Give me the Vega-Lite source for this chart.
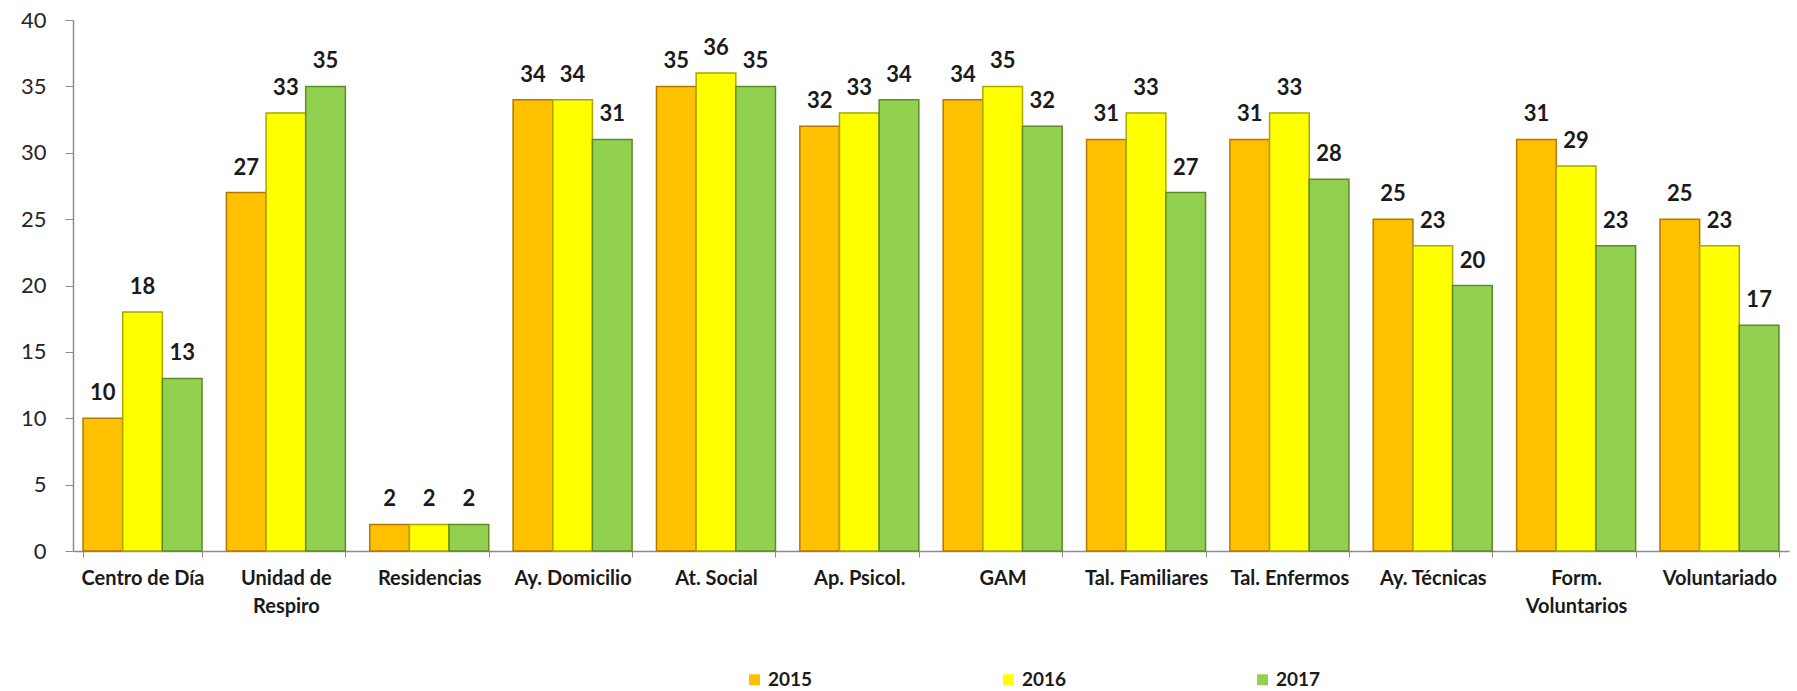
{
  "$schema": "https://vega.github.io/schema/vega-lite/v6.json",
  "width": 1716,
  "height": 531,
  "autosize": {"type": "none"},
  "padding": {"left": 73, "top": 20, "right": 8, "bottom": 140},
  "background": "white",
  "config": {"view": {"stroke": null}, "font": "Lato"},
  "data": {
    "values": [
      {"servicio": "Centro de Día", "anio": "2015", "valor": 10},
      {"servicio": "Centro de Día", "anio": "2016", "valor": 18},
      {"servicio": "Centro de Día", "anio": "2017", "valor": 13},
      {"servicio": "Unidad de Respiro", "anio": "2015", "valor": 27},
      {"servicio": "Unidad de Respiro", "anio": "2016", "valor": 33},
      {"servicio": "Unidad de Respiro", "anio": "2017", "valor": 35},
      {"servicio": "Residencias", "anio": "2015", "valor": 2},
      {"servicio": "Residencias", "anio": "2016", "valor": 2},
      {"servicio": "Residencias", "anio": "2017", "valor": 2},
      {"servicio": "Ay. Domicilio", "anio": "2015", "valor": 34},
      {"servicio": "Ay. Domicilio", "anio": "2016", "valor": 34},
      {"servicio": "Ay. Domicilio", "anio": "2017", "valor": 31},
      {"servicio": "At. Social", "anio": "2015", "valor": 35},
      {"servicio": "At. Social", "anio": "2016", "valor": 36},
      {"servicio": "At. Social", "anio": "2017", "valor": 35},
      {"servicio": "Ap. Psicol.", "anio": "2015", "valor": 32},
      {"servicio": "Ap. Psicol.", "anio": "2016", "valor": 33},
      {"servicio": "Ap. Psicol.", "anio": "2017", "valor": 34},
      {"servicio": "GAM", "anio": "2015", "valor": 34},
      {"servicio": "GAM", "anio": "2016", "valor": 35},
      {"servicio": "GAM", "anio": "2017", "valor": 32},
      {"servicio": "Tal. Familiares", "anio": "2015", "valor": 31},
      {"servicio": "Tal. Familiares", "anio": "2016", "valor": 33},
      {"servicio": "Tal. Familiares", "anio": "2017", "valor": 27},
      {"servicio": "Tal. Enfermos", "anio": "2015", "valor": 31},
      {"servicio": "Tal. Enfermos", "anio": "2016", "valor": 33},
      {"servicio": "Tal. Enfermos", "anio": "2017", "valor": 28},
      {"servicio": "Ay. Técnicas", "anio": "2015", "valor": 25},
      {"servicio": "Ay. Técnicas", "anio": "2016", "valor": 23},
      {"servicio": "Ay. Técnicas", "anio": "2017", "valor": 20},
      {"servicio": "Form. Voluntarios", "anio": "2015", "valor": 31},
      {"servicio": "Form. Voluntarios", "anio": "2016", "valor": 29},
      {"servicio": "Form. Voluntarios", "anio": "2017", "valor": 23},
      {"servicio": "Voluntariado", "anio": "2015", "valor": 25},
      {"servicio": "Voluntariado", "anio": "2016", "valor": 23},
      {"servicio": "Voluntariado", "anio": "2017", "valor": 17}
    ]
  },
  "encoding": {
    "x": {
      "field": "servicio",
      "type": "nominal",
      "sort": null,
      "scale": {"paddingInner": 0.17, "paddingOuter": 0.07},
      "axis": {
        "title": null,
        "labelAngle": 0,
        "labelFont": "Lato",
        "labelFontWeight": "bold",
        "labelFontSize": 20,
        "labelColor": "#1a1a1a",
        "labelPadding": 11,
        "labelLineHeight": 28,
        "labelLimit": 200,
        "labelExpr": "datum.value == 'Unidad de Respiro' ? ['Unidad de', 'Respiro'] : datum.value == 'Form. Voluntarios' ? ['Form.', 'Voluntarios'] : datum.value",
        "tickBand": "extent",
        "tickSize": 6,
        "tickColor": "#8c8c8c",
        "domainColor": "#8c8c8c",
        "domainWidth": 1.5
      }
    },
    "xOffset": {"field": "anio", "type": "nominal", "scale": {"paddingInner": 0, "paddingOuter": 0}},
    "y": {
      "field": "valor",
      "type": "quantitative",
      "scale": {"domain": [0, 40]},
      "axis": {
        "title": null,
        "values": [0, 5, 10, 15, 20, 25, 30, 35, 40],
        "grid": false,
        "labelFont": "Lato",
        "labelFontSize": 22,
        "labelColor": "#262626",
        "labelPadding": 19,
        "tickSize": 8,
        "tickColor": "#8c8c8c",
        "domainColor": "#8c8c8c",
        "domainWidth": 1.5
      }
    }
  },
  "layer": [
    {
      "mark": {"type": "bar", "strokeWidth": 1.5},
      "encoding": {
        "color": {
          "field": "anio",
          "type": "nominal",
          "scale": {"domain": ["2015", "2016", "2017"], "range": ["#FFC000", "#FFFF00", "#92D050"]},
          "legend": {
            "title": null,
            "orient": "none",
            "direction": "horizontal",
            "legendX": 672,
            "legendY": 650,
            "symbolType": "square",
            "symbolSize": 120,
            "symbolStrokeWidth": 0,
            "labelFont": "Lato",
            "labelFontWeight": "bold",
            "labelFontSize": 19,
            "labelColor": "#1a1a1a",
            "labelOffset": 4,
            "columnPadding": 186
          }
        },
        "stroke": {
          "field": "anio",
          "type": "nominal",
          "scale": {"domain": ["2015", "2016", "2017"], "range": ["#B07A00", "#A8A800", "#5E8A28"]},
          "legend": null
        }
      }
    },
    {
      "mark": {"type": "text", "baseline": "alphabetic", "dy": -18, "font": "Lato", "fontWeight": "bold", "fontSize": 22, "color": "#1a1a1a"},
      "encoding": {"text": {"field": "valor", "type": "quantitative"}}
    }
  ]
}
